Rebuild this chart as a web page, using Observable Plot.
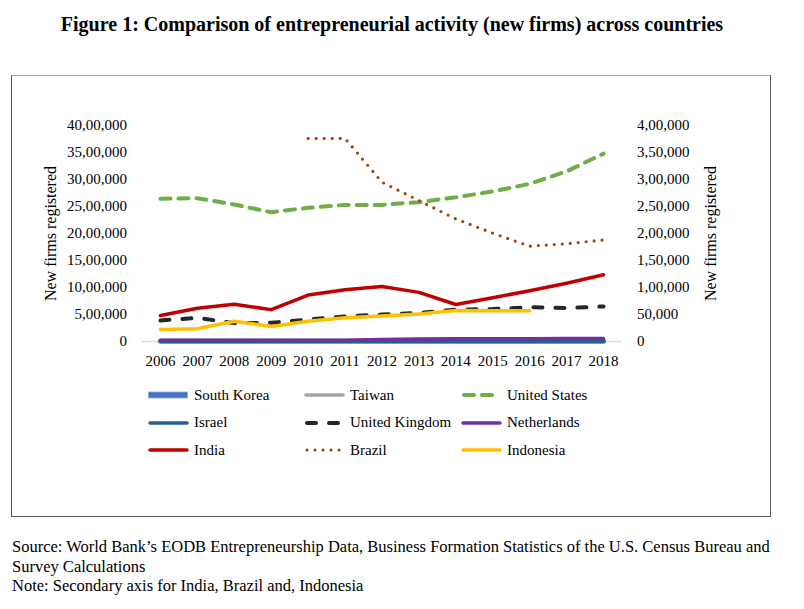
<!DOCTYPE html>
<html>
<head>
<meta charset="utf-8">
<script src="https://cdn.jsdelivr.net/npm/d3@7"></script>
<script src="https://cdn.jsdelivr.net/npm/@observablehq/plot@0.6"></script>
<style>
  body { margin: 0; background: #fff; }
  #page { position: relative; width: 804px; height: 609px; background: #fff; font-family: "Liberation Serif", "Times New Roman", serif; color: #000; overflow: hidden; }
  #title { position: absolute; top: 13px; left: 0; width: 784px; text-align: center; font-weight: bold; font-size: 20px; }
  #box { position: absolute; left: 11px; top: 75px; width: 758px; height: 440px; border: 1px solid #595959; border-top-color: #a6a6a6; }
  #chart { position: absolute; left: 0; top: 100px; }
  .leg { position: absolute; font-size: 15px; display: flex; align-items: center; white-space: nowrap; }
  .leg svg { margin-right: 4px; }
  #foot { position: absolute; left: 12px; top: 537px; font-size: 16.5px; line-height: 19.5px; white-space: nowrap; }
</style>
</head>
<body>
<div id="page">
  <div id="title">Figure 1: Comparison of entrepreneurial activity (new firms) across countries</div>
  <div id="box"></div>
  <div id="chart"></div>
  <div id="legend"></div>
  <div id="foot">Source: World Bank’s EODB Entrepreneurship Data, Business Formation Statistics of the U.S. Census Bureau and<br>Survey Calculations<br>Note: Secondary axis for India, Brazil and, Indonesia</div>
</div>
<script>
// ---- Data ----
const years = [2006, 2007, 2008, 2009, 2010, 2011, 2012, 2013, 2014, 2015, 2016, 2017, 2018];

// Primary axis series
const southKorea   = [6000, 6000, 6000, 6000, 6000, 6000, 6000, 6000, 6000, 6000, 6000, 6000, 6000];
const taiwan       = [4000, 4000, 4000, 4000, 4000, 4000, 4000, 4000, 4000, 4000, 4000, 4000, 4000];
const unitedStates = [2643000, 2654000, 2537000, 2394000, 2476000, 2530000, 2530000, 2580000, 2670000, 2780000, 2920000, 3150000, 3480000];
const israel       = [4000, 4000, 4000, 4000, 4000, 4000, 4000, 4000, 4000, 4000, 4000, 4000, 4000];
const unitedKingdom= [389000, 438000, 340000, 346000, 407000, 463000, 500000, 530000, 590000, 600000, 635000, 620000, 650000];
const netherlands  = [22000, 22000, 23000, 23000, 24000, 25000, 35000, 45000, 50000, 52000, 53000, 55000, 56000];

// Secondary axis series (right axis)
const india        = [48000, 61700, 69000, 59000, 86000, 96000, 102000, 91000, 68500, 81000, 94000, 108000, 123500];
const brazil       = [null, null, null, null, 376000, 376000, 295000, 261000, 227000, 200600, 176500, 181000, 188000];
const indonesia    = [22000, 23500, 37600, 27800, 37600, 43800, 47000, 51000, 57400, 56800, 57000, null, null];

// Axis ticks
const leftTicks  = [0, 500000, 1000000, 1500000, 2000000, 2500000, 3000000, 3500000, 4000000];
const rightTicks = [0, 50000, 100000, 150000, 200000, 250000, 300000, 350000, 400000];
const leftMax = 4000000, rightMax = 400000;
const ratio = leftMax / rightMax;

const seriesNames = ["South Korea", "Taiwan", "United States", "Israel", "United Kingdom", "Netherlands", "India", "Brazil", "Indonesia"];
const seriesValues = [southKorea, taiwan, unitedStates, israel, unitedKingdom, netherlands, india, brazil, indonesia];
const secondary = new Set(["India", "Brazil", "Indonesia"]);

// ---- Styles ----
const styles = {
  "South Korea":    {stroke: "#4472C4", width: 5,   dash: null},
  "Taiwan":         {stroke: "#A5A5A5", width: 3.5, dash: null},
  "United States":  {stroke: "#70AD47", width: 4,   dash: "10,8"},
  "Israel":         {stroke: "#255E91", width: 3.5, dash: null},
  "United Kingdom": {stroke: "#262626", width: 4,   dash: "9,13"},
  "Netherlands":    {stroke: "#7030A0", width: 3.5, dash: null},
  "India":          {stroke: "#C00000", width: 3.5, dash: null},
  "Brazil":         {stroke: "#9E480E", width: 3.2, dash: "0,8"},
  "Indonesia":      {stroke: "#FFC000", width: 3.5, dash: null}
};

function fmtIN(n) {
  n = Math.round(n);
  const s = String(n);
  if (s.length <= 3) return s;
  const last3 = s.slice(-3);
  const rest = s.slice(0, -3).replace(/\B(?=(\d{2})+(?!\d))/g, ",");
  return rest + "," + last3;
}

const marks = [
  Plot.ruleY([0], {stroke: "#d9d9d9", strokeWidth: 1.5})
];
seriesNames.forEach((name, i) => {
  const st = styles[name];
  const k = secondary.has(name) ? ratio : 1;
  const data = years.map((yr, j) => ({year: yr, value: seriesValues[i][j]}))
                    .filter(d => d.value != null);
  marks.push(Plot.line(data, {
    x: "year",
    y: d => d.value * k,
    stroke: st.stroke,
    strokeWidth: st.width,
    strokeDasharray: st.dash || undefined,
    strokeLinecap: "round",
    strokeLinejoin: "round"
  }));
});

marks.push(
  Plot.axisX(years, {anchor: "bottom", tickSize: 0, tickPadding: 14, tickFormat: d => String(d), fontSize: 15, label: null}),
  Plot.axisY(leftTicks, {anchor: "left", tickSize: 0, tickPadding: 15, tickFormat: fmtIN, fontSize: 15, label: null}),
  Plot.axisY(rightTicks.map(v => v * ratio), {anchor: "right", tickSize: 0, tickPadding: 15, tickFormat: d => fmtIN(d / ratio), fontSize: 15, label: null}),
  Plot.text(["New firms registered"], {frameAnchor: "left", dx: -91, rotate: -90, textAnchor: "middle", lineAnchor: "middle", fontSize: 16}),
  Plot.text(["New firms registered"], {frameAnchor: "right", dx: 89, rotate: -90, textAnchor: "middle", lineAnchor: "middle", fontSize: 16})
);

const chart = Plot.plot({
  width: 804,
  height: 281,
  marginLeft: 141.5,
  marginRight: 182.5,
  marginTop: 25,
  marginBottom: 40,
  x: {type: "linear", domain: [2005.5, 2018.5]},
  y: {domain: [0, leftMax]},
  style: {fontFamily: "'Liberation Serif', 'Times New Roman', serif", fontSize: "15px", color: "#000", background: "transparent", overflow: "visible"},
  marks
});
document.getElementById("chart").appendChild(chart);

// ---- Legend ----
const legendCols = [148, 304, 461];
const legendRows = [395, 422.5, 450];
const legend = document.getElementById("legend");
seriesNames.forEach((name, i) => {
  const st = styles[name];
  const col = i % 3, row = Math.floor(i / 3);
  const div = document.createElement("div");
  div.className = "leg";
  div.style.left = legendCols[col] + "px";
  div.style.top = (legendRows[row] - 10) + "px";
  div.style.height = "20px";
  const w = 42;
  const svg = d3.create("svg").attr("width", w).attr("height", 10);
  if (name === "South Korea") {
    svg.append("rect").attr("x", 0.5).attr("y", 2).attr("width", w - 3).attr("height", 6)
      .attr("fill", st.stroke).attr("stroke", "#8faadc").attr("stroke-width", 0.8);
  } else {
    svg.append("line").attr("x1", st.dash ? 3 : 2).attr("x2", w - 3).attr("y1", 5).attr("y2", 5)
      .attr("stroke", st.stroke).attr("stroke-width", st.width)
      .attr("stroke-linecap", "round")
      .attr("stroke-dasharray", st.dash);
  }
  div.appendChild(svg.node());
  const span = document.createElement("span");
  span.textContent = name;
  div.appendChild(span);
  legend.appendChild(div);
});
</script>
</body>
</html>
